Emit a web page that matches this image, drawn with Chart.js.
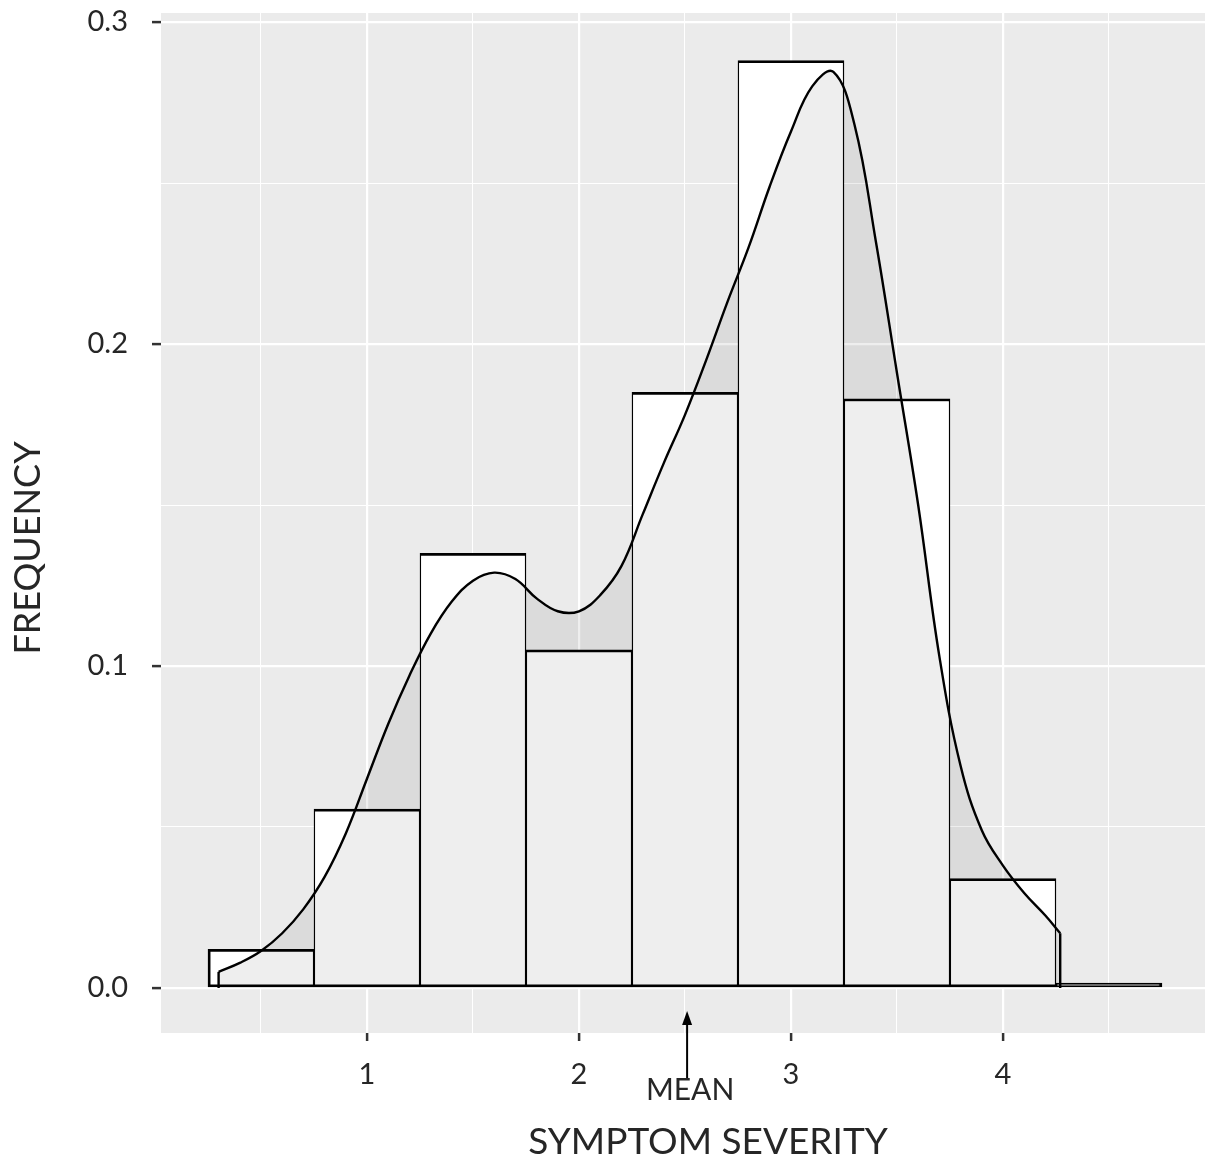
<!DOCTYPE html>
<html>
<head>
<meta charset="utf-8">
<script src="https://cdn.jsdelivr.net/npm/chart.js@4.4.1/dist/chart.umd.min.js"></script>
<style>
  body { margin: 0; background: #fff; }
  #wrap { width: 1205px; height: 1164px; position: relative; }
</style>
</head>
<body>
<div id="wrap"><canvas id="histChart"></canvas></div>
<script>
        // histogram bins (width 0.5) and their relative frequency
        const binCenters = [0.5, 1, 1.5, 2, 2.5, 3, 3.5, 4, 4.5];
        const binFreq = [0.012, 0.0556, 0.135, 0.105, 0.185, 0.288, 0.183, 0.034, 0.0015];

        // density curve
        const densityX = [0.3, 0.4, 0.5, 0.6, 0.7, 0.8, 0.9, 1.0, 1.1, 1.2, 1.3, 1.4, 1.5, 1.6, 1.7, 1.8, 1.9, 2.0,
                          2.1, 2.2, 2.3, 2.4, 2.5, 2.6, 2.7, 2.8, 2.9, 3.0, 3.1, 3.2, 3.3, 3.4, 3.5, 3.6, 3.7, 3.8,
                          3.9, 4.0, 4.1, 4.2, 4.27];
        const densityY = [0.005, 0.0078, 0.0115, 0.017, 0.0245, 0.0345, 0.048, 0.065, 0.082, 0.097, 0.110, 0.120,
                          0.1265, 0.129, 0.127, 0.121, 0.117, 0.117, 0.122, 0.131, 0.147, 0.163, 0.178, 0.195, 0.213,
                          0.230, 0.249, 0.266, 0.280, 0.2845, 0.268, 0.232, 0.191, 0.150, 0.103, 0.069, 0.049, 0.038,
                          0.0295, 0.0225, 0.017];

        const xTickValues = [1, 2, 3, 4];
        const yTickValues = [0, 0.1, 0.2, 0.3];
        const yTickLabels = ['0.0', '0.1', '0.2', '0.3'];
        const meanValue = 2.51;

        const FONT = 'Lato, "Open Sans", sans-serif';
        const TEXT = '#262626';

        const densityPts = densityX.map((x, i) => ({ x: x, y: densityY[i] }));
        const first = densityPts[0], last = densityPts[densityPts.length - 1];
        const isMajor = v => Math.abs(v - Math.round(v)) < 1e-6;
        const isMajorY = v => Math.abs(v * 10 - Math.round(v * 10)) < 1e-6;
        const lastBar = binCenters.length - 1;

        const panelPlugin = {
            id: 'panel',
            beforeDraw(chart) {
                const { ctx, chartArea: a } = chart;
                ctx.save();
                ctx.fillStyle = '#ebebeb';
                ctx.fillRect(a.left, a.top, a.right - a.left, a.bottom - a.top);
                ctx.restore();
            },
            afterDraw(chart) {
                const ctx = chart.ctx;
                const xs = chart.scales.x;
                const mx = xs.getPixelForValue(meanValue);
                ctx.save();
                // mean arrow
                ctx.strokeStyle = '#000';
                ctx.fillStyle = '#000';
                ctx.lineWidth = 2;
                ctx.beginPath();
                ctx.moveTo(mx, 1078);
                ctx.lineTo(mx, 1022);
                ctx.stroke();
                ctx.beginPath();
                ctx.moveTo(mx, 1011);
                ctx.lineTo(mx - 5, 1025);
                ctx.lineTo(mx + 5, 1025);
                ctx.closePath();
                ctx.fill();

                ctx.fillStyle = TEXT;
                ctx.textAlign = 'center';
                ctx.textBaseline = 'middle';
                ctx.font = '30px ' + FONT;
                ctx.fillText('MEAN', mx + 3, 1090);

                ctx.font = '37px ' + FONT;
                ctx.fillText('SYMPTOM SEVERITY', 708, 1142);

                ctx.font = '36px ' + FONT;
                ctx.translate(28, 548);
                ctx.rotate(-Math.PI / 2);
                ctx.fillText('FREQUENCY', 0, 0);
                ctx.restore();
            }
        };

        const ctx = document.getElementById('histChart').getContext('2d');
        const chart = new Chart(ctx, {
            type: 'bar',
            data: {
                datasets: [
                    {
                        type: 'line',
                        data: densityPts,
                        borderColor: '#000',
                        borderWidth: 2.4,
                        backgroundColor: 'rgba(0,0,0,0.065)',
                        fill: 'origin',
                        pointRadius: 0,
                        tension: 0.4,
                        order: 0
                    },
                    {
                        type: 'line',
                        data: [{ x: first.x, y: 0 }, first],
                        borderColor: '#000',
                        borderWidth: 2.4,
                        pointRadius: 0,
                        order: 0
                    },
                    {
                        type: 'line',
                        data: [{ x: last.x, y: 0 }, last],
                        borderColor: '#000',
                        borderWidth: 2.4,
                        pointRadius: 0,
                        order: 0
                    },
                    {
                        type: 'bar',
                        data: binCenters.map((c, i) => ({ x: c, y: binFreq[i] })),
                        backgroundColor: '#ffffff',
                        borderColor: '#000',
                        borderWidth: c => ({
                            top: 2.8,
                            bottom: 2.8,
                            left: c.dataIndex === 0 ? 2.8 : 1.4,
                            right: c.dataIndex === lastBar ? 2.8 : 1.4
                        }),
                        borderSkipped: false,
                        barPercentage: 1,
                        categoryPercentage: 1,
                        order: 1
                    }
                ]
            },
            options: {
                responsive: true,
                maintainAspectRatio: false,
                animation: false,
                layout: { padding: { top: 13, right: 0, bottom: 0, left: 0 } },
                plugins: { legend: { display: false }, tooltip: { enabled: false } },
                scales: {
                    x: {
                        type: 'linear',
                        offset: false,
                        min: 0.0283,
                        max: 4.953,
                        afterFit: s => { s.height = 131; s.paddingLeft = 0; s.paddingRight = 0; },
                        afterBuildTicks: s => {
                            s.ticks = [0.5, 1, 1.5, 2, 2.5, 3, 3.5, 4, 4.5].map(v => ({ value: v }));
                        },
                        border: { display: false },
                        grid: {
                            offset: false,
                            color: '#ffffff',
                            lineWidth: c => (c.tick && isMajor(c.tick.value) ? 2.2 : 1),
                            tickColor: c => (c.tick && isMajor(c.tick.value) ? '#333333' : 'rgba(0,0,0,0)'),
                            tickLength: 8,
                            tickWidth: 2.5
                        },
                        ticks: {
                            padding: 16,
                            color: TEXT,
                            font: { family: FONT, size: 29 },
                            maxRotation: 0,
                            autoSkip: false,
                            callback: v => (xTickValues.includes(v) ? String(v) : '')
                        }
                    },
                    y: {
                        min: -0.01398,
                        max: 0.3028,
                        afterFit: s => { s.width = 161; s.paddingTop = 0; s.paddingBottom = 0; },
                        afterBuildTicks: s => {
                            s.ticks = [0, 0.05, 0.1, 0.15, 0.2, 0.25, 0.3].map(v => ({ value: v }));
                        },
                        border: { display: false },
                        grid: {
                            color: '#ffffff',
                            lineWidth: c => (c.tick && isMajorY(c.tick.value) ? 2.2 : 1),
                            tickColor: c => (c.tick && isMajorY(c.tick.value) ? '#333333' : 'rgba(0,0,0,0)'),
                            tickLength: 9,
                            tickWidth: 2.5
                        },
                        ticks: {
                            padding: 24,
                            color: TEXT,
                            font: { family: FONT, size: 29 },
                            autoSkip: false,
                            callback: v => {
                                const i = yTickValues.findIndex(t => Math.abs(t - v) < 1e-6);
                                return i >= 0 ? yTickLabels[i] : '';
                            }
                        }
                    }
                }
            },
            plugins: [panelPlugin]
        });
</script>
</body>
</html>
